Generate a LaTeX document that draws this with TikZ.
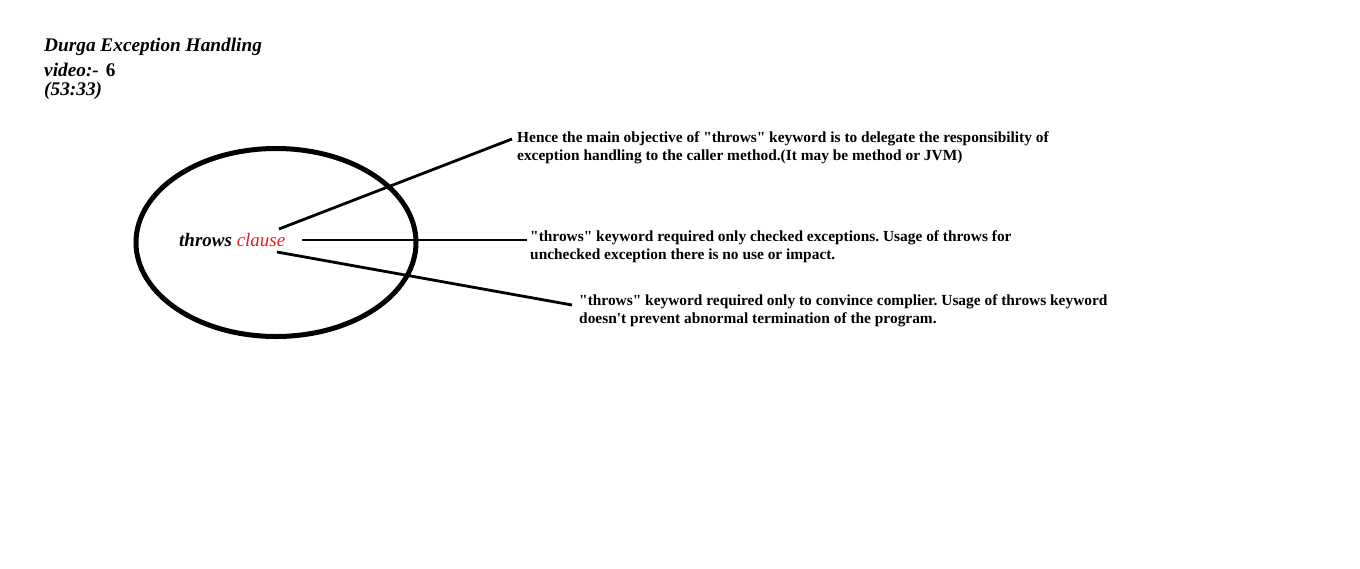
\documentclass[tikz,border=0pt]{standalone}
\usepackage{fontspec}
\setmainfont{Liberation Serif}
\usetikzlibrary{shapes.geometric}
\definecolor{clausered}{RGB}{237,28,36}
\newcommand{\dq}{\textquotedbl}
\tikzset{
  note/.style={anchor=west, inner sep=0pt, align=left, font=\fontsize{15.4}{17.8}\selectfont\bfseries\frenchspacing},
  title/.style={anchor=west, inner sep=0pt, font=\fontsize{19.3}{22}\selectfont\bfseries\itshape},
  link/.style={line width=2.8pt, black}
}
\begin{document}
\begin{tikzpicture}[x=1pt,y=-1pt]
\useasboundingbox (0,0) rectangle (1360,568);
\node[title] (t1) at (44,47) {Durga Exception Handling};
\node[title] (t2) at (44,70) {video:-\hspace{7pt}\upshape 6};
\node[title] (t3) at (44,91) {(53:33)};
\node[draw, ellipse, line width=5pt, minimum width=280pt, minimum height=188pt, inner sep=0pt] (ell) at (276,242.5) {};
\node[inner sep=0pt, anchor=west, font=\fontsize{19}{22}\selectfont\itshape] (tc) at (179,240) {\bfseries throws \mdseries\color{clausered}clause};
\coordinate (a1) at (279,229);
\coordinate (a2) at (302,240);
\coordinate (a3) at (277,252);
\node[note] (n1) at (517,148) {Hence the main objective of \dq throws\dq{} keyword is to delegate the responsibility of\\exception handling to the caller method.(It may be method or JVM)};
\node[note] (n2) at (530,246.5) {\dq throws\dq{} keyword required only checked exceptions. Usage of throws for\\unchecked exception there is no use or impact.};
\node[note] (n3) at (579,311) {\dq throws\dq{} keyword required only to convince complier. Usage of throws keyword\\doesn\textquotesingle t prevent abnormal termination of the program.};
\coordinate (b1) at (512,139);
\coordinate (b2) at (527,240);
\coordinate (b3) at (572,305);
\draw[link] (a1) -- (b1);
\draw[link] (a2) -- (b2);
\draw[link] (a3) -- (b3);
\end{tikzpicture}
\end{document}
